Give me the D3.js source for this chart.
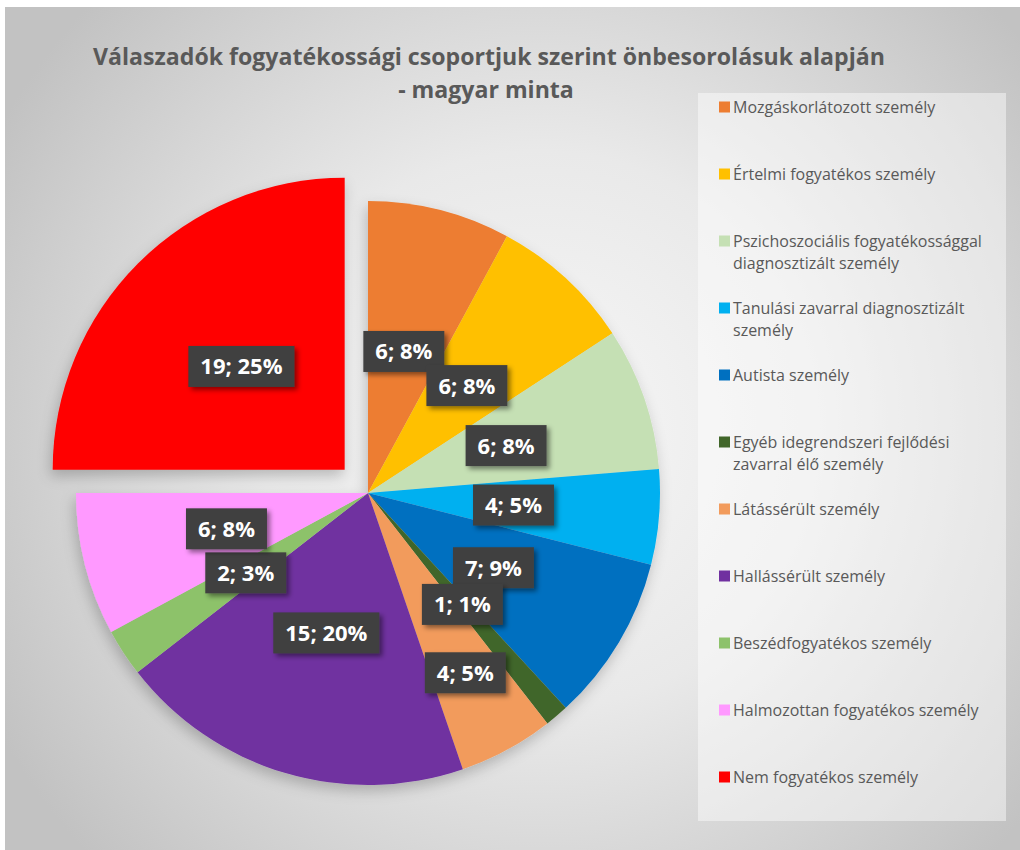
<!DOCTYPE html>
<html><head><meta charset="utf-8">
<script src="https://cdn.jsdelivr.net/npm/d3@7"></script>
<style>body{margin:0;background:#fff}svg{display:block}</style>
</head><body>
<svg id="chart" width="1020" height="850"></svg>
<script>
const categories = [
  "Mozgáskorlátozott személy",
  "Értelmi fogyatékos személy",
  "Pszichoszociális fogyatékossággal diagnosztizált személy",
  "Tanulási zavarral diagnosztizált személy",
  "Autista személy",
  "Egyéb idegrendszeri fejlődési zavarral élő személy",
  "Látássérült személy",
  "Hallássérült személy",
  "Beszédfogyatékos személy",
  "Halmozottan fogyatékos személy",
  "Nem fogyatékos személy"
];
const values = [6, 6, 6, 4, 7, 1, 4, 15, 2, 6, 19];
const colors = ["#ED7D31","#FFC000","#C5E0B4","#00B0F0","#0070C0","#41662A","#F29B5C","#7030A0","#8DC26B","#FF99FF","#FF0000"];
const titleLines = ["Válaszadók fogyatékossági csoportjuk szerint önbesorolásuk alapján", "- magyar minta"];
const explodedCategory = "Nem fogyatékos személy";
const outerLabelCategory = "Látássérült személy";

const W = 1020, H = 850;
const svg = d3.select("#chart");
const defs = svg.append("defs");

const grad = defs.append("radialGradient").attr("id","bg")
  .attr("gradientUnits","userSpaceOnUse").attr("cx",540).attr("cy",430).attr("r",620);
grad.append("stop").attr("offset","0").attr("stop-color","#f7f7f7");
grad.append("stop").attr("offset","0.45").attr("stop-color","#e9e9e9");
grad.append("stop").attr("offset","1").attr("stop-color","#c2c2c2");

const pieShadow = defs.append("filter").attr("id","pieShadow")
  .attr("x","-20%").attr("y","-20%").attr("width","140%").attr("height","140%");
pieShadow.append("feDropShadow").attr("dx",-2).attr("dy",6).attr("stdDeviation",7)
  .attr("flood-color","#000").attr("flood-opacity",0.22);

const lblShadow = defs.append("filter").attr("id","lblShadow")
  .attr("x","-20%").attr("y","-30%").attr("width","150%").attr("height","170%");
lblShadow.append("feDropShadow").attr("dx",3).attr("dy",3).attr("stdDeviation",2.5)
  .attr("flood-color","#000").attr("flood-opacity",0.45);

// background
svg.append("rect").attr("x",5).attr("y",7).attr("width",W-5).attr("height",H-7).attr("fill","url(#bg)");

// title
const title = svg.append("g").attr("font-family","'Open Sans', 'Noto Sans', sans-serif")
  .attr("font-weight","bold").attr("fill","#595959").attr("text-anchor","middle");
const t1 = title.append("text").attr("x",489).attr("y",65).attr("font-size",22).text(titleLines[0]);
const w1 = t1.node().getComputedTextLength();
const fs = 22 * 792 / w1;
t1.attr("font-size", fs);
title.append("text").attr("x",486).attr("y",98).attr("font-size",fs).text(titleLines[1]);

// pie
const cx = 368, cy = 493, R = 292, explodeDist = 33;
const total = d3.sum(values);
const data = categories.map((c,i)=>({name:c, value:values[i], color:colors[i]}));
const pie = d3.pie().sort(null).value(d=>d.value);
const arcs = pie(data);
const arc = d3.arc().innerRadius(0).outerRadius(R);
const offset = d => {
  if (d.data.name !== explodedCategory) return [0,0];
  const a = (d.startAngle + d.endAngle)/2;
  return [Math.sin(a)*explodeDist, -Math.cos(a)*explodeDist];
};
const pg = svg.append("g").attr("transform",`translate(${cx},${cy})`).attr("filter","url(#pieShadow)");
pg.selectAll("path").data(arcs).join("path")
  .attr("d", arc)
  .attr("fill", d=>d.data.color)
  .attr("transform", d=>{const o=offset(d);return `translate(${o[0]},${o[1]})`;});

// labels
const lg = svg.append("g").attr("transform",`translate(${cx},${cy})`)
  .attr("font-family","'Open Sans', 'Noto Sans', sans-serif").attr("font-weight","bold");
arcs.forEach(d=>{
  const a = (d.startAngle + d.endAngle)/2;
  const rr = d.data.name === outerLabelCategory ? R*0.70 : R*0.5;
  const o = offset(d);
  const x = Math.sin(a)*rr + o[0], y = -Math.cos(a)*rr + o[1];
  const pct = Math.round(d.data.value/total*100);
  const g = lg.append("g").attr("transform",`translate(${x},${y})`);
  const rect = g.append("rect").attr("fill","#404040").attr("filter","url(#lblShadow)");
  const t = g.append("text").attr("text-anchor","middle").attr("dy","0.36em")
    .attr("font-size",22).attr("fill","#fff").text(`${d.data.value}; ${pct}%`);
  const tw = t.node().getComputedTextLength();
  const bw = tw + 24, bh = 41;
  rect.attr("x",-bw/2).attr("y",-bh/2).attr("width",bw).attr("height",bh);
});

// legend
const leg = svg.append("g");
leg.append("rect").attr("x",698).attr("y",93).attr("width",308).attr("height",728)
  .attr("fill","#ffffff").attr("fill-opacity",0.45);
const legFont = 16, maxW = 262;
data.forEach((d,i)=>{
  const y = 107 + i*67;
  leg.append("rect").attr("x",719).attr("y",y-5.5).attr("width",11).attr("height",11).attr("fill",d.color);
  const t = leg.append("text").attr("x",733).attr("y",y)
    .attr("font-family","'Open Sans', 'Noto Sans', sans-serif").attr("font-size",legFont).attr("fill","#595959");
  const words = d.name.split(" ");
  let lines = [], cur = "";
  const probe = leg.append("text").attr("font-family","'Open Sans', 'Noto Sans', sans-serif").attr("font-size",legFont);
  words.forEach(w=>{
    const test = cur ? cur + " " + w : w;
    probe.text(test);
    if (probe.node().getComputedTextLength() > maxW && cur) { lines.push(cur); cur = w; }
    else cur = test;
  });
  lines.push(cur);
  probe.remove();
  lines.forEach((l,j)=>{
    t.append("tspan").attr("x",733).attr("dy", j===0 ? "0.35em" : 22).text(l);
  });
});
</script>
</body></html>
